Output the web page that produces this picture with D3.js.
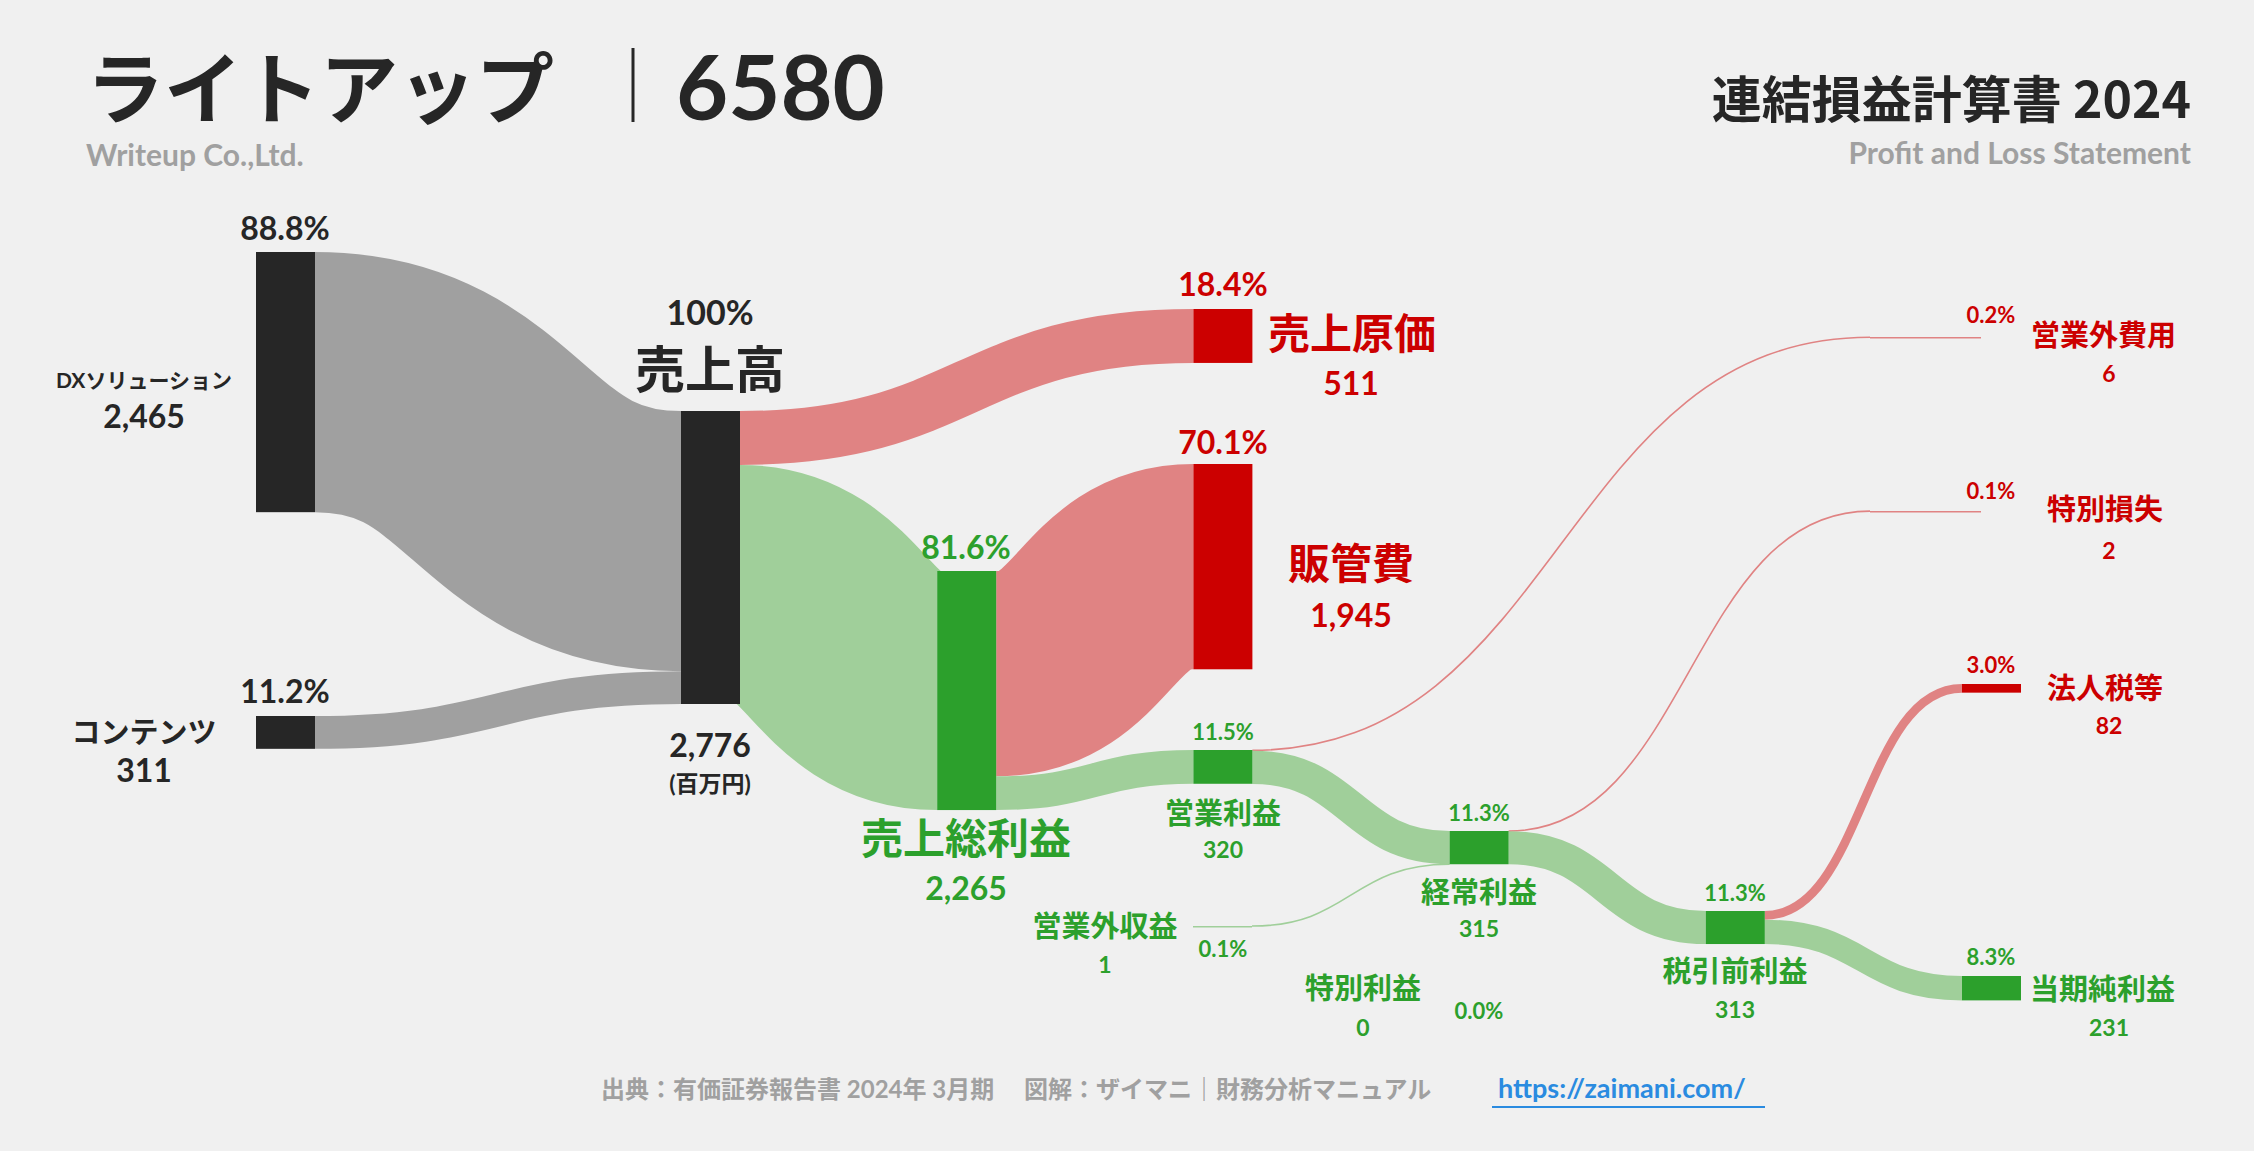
<!DOCTYPE html>
<html><head><meta charset="utf-8">
<script src="https://cdn.jsdelivr.net/npm/d3@7"></script>
<style>body{margin:0;background:#f0f0f0;}svg{display:block;}text{font-family:Lato,"Noto Sans CJK JP",sans-serif;font-weight:700;}</style>
</head><body><svg id="c" width="2254" height="1151"></svg>
<script>
// ---- data ----
const nodeNames = ["DXソリューション","コンテンツ","売上高","売上原価","販管費","売上総利益","営業利益","営業外収益","営業外費用","経常利益","特別利益","特別損失","税引前利益","法人税等","当期純利益"];
const nodeValues = [2465,311,2776,511,1945,2265,320,1,6,315,0,2,313,82,231];
const nodePcts = ["88.8%","11.2%","100%","18.4%","70.1%","81.6%","11.5%","0.1%","0.2%","11.3%","0.0%","0.1%","11.3%","3.0%","8.3%"];
const linkSource = ["DXソリューション","コンテンツ","売上高","売上高","売上総利益","売上総利益","営業利益","営業利益","営業外収益","経常利益","経常利益","税引前利益","税引前利益"];
const linkTarget = ["売上高","売上高","売上原価","売上総利益","販管費","営業利益","営業外費用","経常利益","経常利益","特別損失","税引前利益","法人税等","当期純利益"];
const linkValue = [2465,311,511,2265,1945,320,6,315,1,2,313,82,231];

// ---- layout ----
const C = {dark:"#262626",gray:"#a0a0a0",red:"#cc0000",redL:"#e08383",green:"#2ca02c",greenL:"#a0cf9a",sub:"#a0a0a0"};
const svg = d3.select("#c");
svg.append("rect").attr("width",2254).attr("height",1151).attr("fill","#f0f0f0");
const h = d3.scaleLinear().domain([0,2776]).range([0,293]);
const col = d3.scaleLinear().domain([1,6]).range([681,1962]);
const NW = 59;
const layout = {
 "DXソリューション":{x0:256,x1:315,y:252,t:"dark"},"コンテンツ":{x0:256,x1:315,y:716,t:"dark"},"売上高":{c:1,y:411,t:"dark"},
 "売上原価":{c:3,y:309,t:"red"},"販管費":{c:3,y:464,t:"red"},"売上総利益":{c:2,y:571,t:"green"},
 "営業利益":{c:3,y:750,t:"green"},"経常利益":{c:4,y:831,t:"green"},"税引前利益":{c:5,y:911,t:"green"},
 "当期純利益":{c:6,y:976,t:"green"},"法人税等":{c:6,y:684,t:"red"},
 "営業外費用":{x0:1870,x1:1981,y:337,t:"redline"},"特別損失":{x0:1870,x1:1981,y:511,t:"redline"},
 "営業外収益":{x0:1193,x1:1252,y:926,t:"greenline"},"特別利益":{x0:1193,x1:1252,y:1000,t:"none"}
};
const nodes = {};
nodeNames.forEach((n,i)=>{
  const L = layout[n];
  const x0 = L.x0!==undefined?L.x0:col(L.c), x1 = L.x1!==undefined?L.x1:col(L.c)+NW;
  nodes[n] = {name:n,value:nodeValues[i],pct:nodePcts[i],x0,x1,y0:L.y,y1:L.y+h(nodeValues[i]),t:L.t,outOff:0,inOff:0};
});
const links = linkSource.map((s,i)=>{
  const S=nodes[s],T=nodes[linkTarget[i]],w=h(linkValue[i]);
  const sy=S.y0+S.outOff+w/2, ty=T.y0+T.inOff+w/2;
  S.outOff+=w; T.inOff+=w;
  const col_ = (T.t==="red"||T.t==="redline")?C.redL:(T.t==="dark"?C.gray:C.greenL);
  return {S,T,w,sy,ty,color:col_};
});
const gl = svg.append("g");
links.forEach(l=>{
  const x1=l.S.x1,x0=l.T.x0,m=(x1+x0)/2;
  gl.append("path").attr("d",`M${x1},${l.sy}C${m},${l.sy} ${m},${l.ty} ${x0},${l.ty}`)
    .attr("fill","none").attr("stroke",l.color).attr("stroke-width",Math.max(l.w,1.6));
});
const gn = svg.append("g");
Object.values(nodes).forEach(n=>{
  if(n.t==="none")return;
  if(n.t.endsWith("line")){
    gn.append("line").attr("x1",n.x0).attr("x2",n.x1).attr("y1",n.y0+0.8).attr("y2",n.y0+0.8)
      .attr("stroke",n.t==="redline"?C.redL:C.greenL).attr("stroke-width",1.6);
  } else {
    gn.append("rect").attr("x",n.x0).attr("y",n.y0).attr("width",n.x1-n.x0).attr("height",Math.max(n.y1-n.y0,1))
      .attr("fill",n.t==="dark"?C.dark:n.t==="red"?C.red:C.green);
  }
});
// ---- labels ----
function T(x,y,txt,size,color,anchor){return svg.append("text").attr("x",x).attr("y",y).attr("font-size",size).attr("fill",color).attr("text-anchor",anchor||"middle").text(txt);}
const fmt = d3.format(",");
const N = nodes;
T(285,240,N["DXソリューション"].pct,32,C.dark);
T(144,388,"DXソリューション",21,C.dark);T(144,428,fmt(N["DXソリューション"].value),32,C.dark);
T(285,703,N["コンテンツ"].pct,32,C.dark);
T(144,743,"コンテンツ",29,C.dark);T(144,782,fmt(N["コンテンツ"].value),32,C.dark);
T(710,325,N["売上高"].pct,34,C.dark);T(710,388,"売上高",50,C.dark);
T(710,757,fmt(N["売上高"].value),32,C.dark);T(710,792,"(百万円)",23,C.dark);
T(1223,296,N["売上原価"].pct,32,C.red);T(1268,349,"売上原価",42,C.red,"start");T(1351,395,fmt(N["売上原価"].value),32,C.red);
T(1223,454,N["販管費"].pct,32,C.red);T(1351,579,"販管費",42,C.red);T(1351,627,fmt(N["販管費"].value),32,C.red);
T(966,559,N["売上総利益"].pct,32,C.green);T(966,854,"売上総利益",42,C.green);T(966,900,fmt(N["売上総利益"].value),32,C.green);
T(1223,740,N["営業利益"].pct,22,C.green);T(1223,824,"営業利益",29,C.green);T(1223,858,fmt(N["営業利益"].value),23,C.green);
T(1479,821,N["経常利益"].pct,22,C.green);T(1479,903,"経常利益",29,C.green);T(1479,937,fmt(N["経常利益"].value),23,C.green);
T(1735,901,N["税引前利益"].pct,22,C.green);T(1735,982,"税引前利益",29,C.green);T(1735,1018,fmt(N["税引前利益"].value),23,C.green);
T(1991,965,N["当期純利益"].pct,22,C.green);T(2030,1000,"当期純利益",29,C.green,"start");T(2109,1036,fmt(N["当期純利益"].value),23,C.green);
T(1991,673,N["法人税等"].pct,22,C.red);T(2047,699,"法人税等",29,C.red,"start");T(2109,734,fmt(N["法人税等"].value),23,C.red);
T(1991,323,N["営業外費用"].pct,22,C.red);T(2031,346,"営業外費用",29,C.red,"start");T(2109,382,fmt(N["営業外費用"].value),23,C.red);
T(1991,499,N["特別損失"].pct,22,C.red);T(2047,520,"特別損失",29,C.red,"start");T(2109,559,fmt(N["特別損失"].value),23,C.red);
T(1105,937,"営業外収益",29,C.green);T(1105,973,fmt(N["営業外収益"].value),23,C.green);T(1223,957,N["営業外収益"].pct,22,C.green);
T(1363,999,"特別利益",29,C.green);T(1363,1036,fmt(N["特別利益"].value),23,C.green);T(1479,1019,N["特別利益"].pct,22,C.green);
// title
svg.append("text").attr("x",86).attr("y",118).attr("font-size",78).attr("fill",C.dark).attr("font-weight",900)
  .style("font-family","'Noto Sans CJK JP',sans-serif").text("ライトアップ");
svg.append("line").attr("x1",633).attr("x2",633).attr("y1",48).attr("y2",122).attr("stroke",C.dark).attr("stroke-width",3);
svg.append("text").attr("x",676).attr("y",120).attr("font-size",90).attr("fill",C.dark).attr("font-weight",900)
  .style("font-family","Lato,sans-serif").text("6580");
T(86,166,"Writeup Co.,Ltd.",30,C.sub,"start");
svg.append("text").attr("x",2191).attr("y",118).attr("text-anchor","end").attr("font-size",50).attr("fill",C.dark).attr("font-weight",900)
  .style("font-family","'Noto Sans CJK JP',sans-serif").text("連結損益計算書 2024");
T(2191,164,"Profit and Loss Statement",30,C.sub,"end");
T(601,1098,"出典：有価証券報告書 2024年 3月期　 図解：ザイマニ｜財務分析マニュアル",24,C.sub,"start");
T(1498,1098,"https://zaimani.com/",27,"#2a8be0","start");
svg.append("line").attr("x1",1492).attr("x2",1765).attr("y1",1107).attr("y2",1107).attr("stroke","#2a8be0").attr("stroke-width",2);
</script></body></html>
